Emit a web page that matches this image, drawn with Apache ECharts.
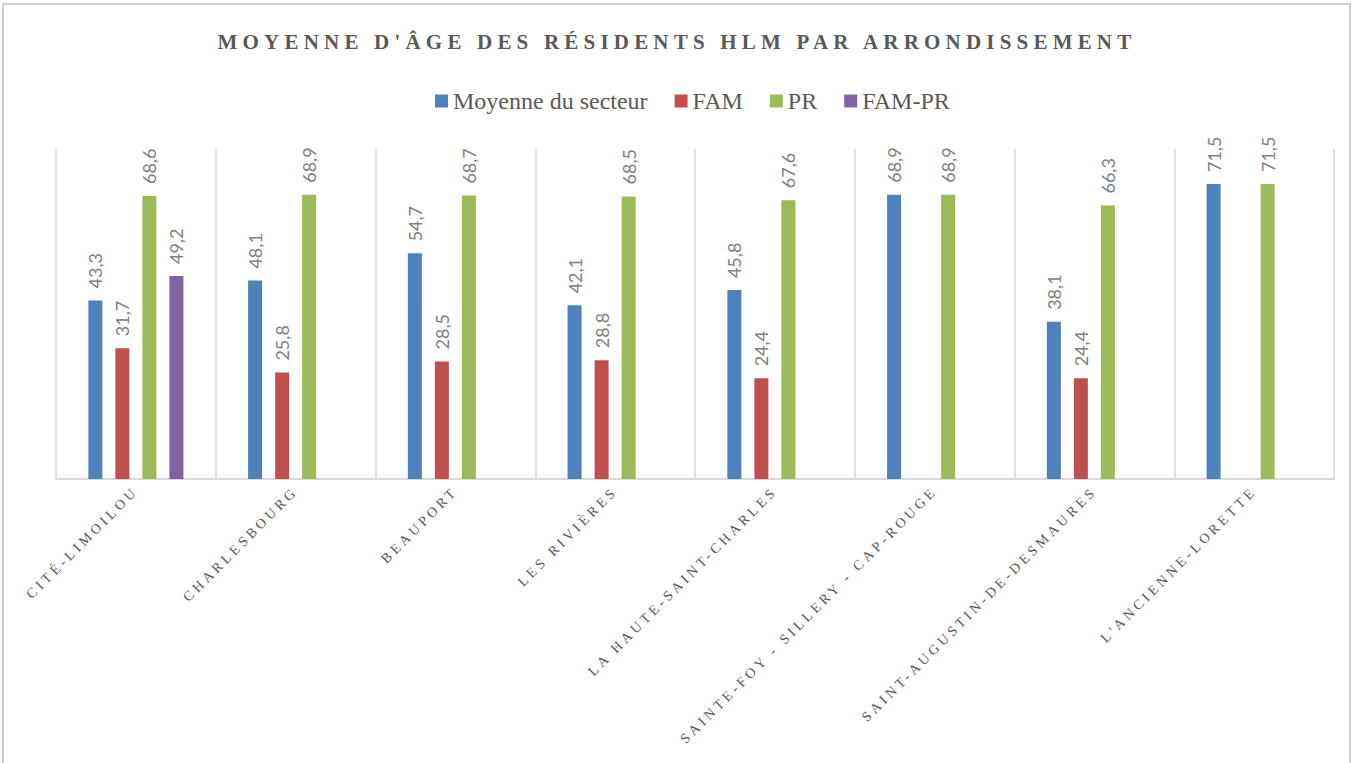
<!DOCTYPE html>
<html>
<head>
<meta charset="utf-8">
<script src="https://cdn.jsdelivr.net/npm/echarts@6/dist/echarts.min.js"></script>
<style>
    html, body { margin: 0; padding: 0; background: #fff; }
    #charts { width: 1354px; height: 763px; }
    /* ECharts has no letter-spacing option: with the SVG renderer CSS does it */
    #charts text[style*="spaced"] { letter-spacing: 3.6px; }
    #charts text[style*="spacedtitle"] { letter-spacing: 5.2px; }
</style>
</head>
<body>
<div id="charts"></div>
<script>
const categories = ['CITÉ-LIMOILOU', 'CHARLESBOURG', 'BEAUPORT', 'LES RIVIÈRES',
    'LA HAUTE-SAINT-CHARLES', 'SAINTE-FOY - SILLERY - CAP-ROUGE',
    'SAINT-AUGUSTIN-DE-DESMAURES', "L'ANCIENNE-LORETTE"];
const moyenneSecteur = [43.3, 48.1, 54.7, 42.1, 45.8, 68.9, 38.1, 71.5];
const fam = [31.7, 25.8, 28.5, 28.8, 24.4, null, 24.4, null];
const pr = [68.6, 68.9, 68.7, 68.5, 67.6, 68.9, 66.3, 71.5];
const famPr = [49.2, null, null, null, null, null, null, null];

const seriesNames = ['Moyenne du secteur', 'FAM', 'PR', 'FAM-PR'];
const seriesData = [moyenneSecteur, fam, pr, famPr];
const colors = ['#4f81bd', '#c0504d', '#9bbb59', '#8064a2'];

const option = {
    animation: false,
    color: colors,
    title: {
        text: "MOYENNE D'ÂGE DES RÉSIDENTS HLM PAR ARRONDISSEMENT",
        left: 'center',
        top: 26,
        textStyle: {
            color: '#595959',
            fontFamily: 'Liberation Serif, spacedtitle',
            fontWeight: 'bold',
            fontSize: 21
        }
    },
    legend: {
        data: seriesNames,
        left: 430,
        top: 84,
        icon: 'rect',
        itemWidth: 13,
        itemHeight: 13,
        itemGap: 27,
        textStyle: {
            color: '#595959',
            fontFamily: 'Liberation Serif',
            fontSize: 24
        }
    },
    graphic: [{
        type: 'rect',
        shape: { x: 3, y: 4, width: 1347, height: 800 },
        style: { fill: 'none', stroke: '#d0d0d0', lineWidth: 2 },
        silent: true
    }],
    grid: {
        left: 56,
        right: 20,
        top: 149,
        bottom: 284
    },
    xAxis: {
        type: 'category',
        data: categories,
        axisLine: { show: true, lineStyle: { color: '#d9d9d9', width: 2 } },
        axisTick: { show: false },
        splitLine: { show: true, showMinLine: true, showMaxLine: true, lineStyle: { color: '#d9d9d9', width: 1.5 } },
        axisLabel: {
            interval: 0,
            rotate: 45,
            margin: 10,
            color: '#595959',
            fontFamily: 'Liberation Serif, spaced',
            fontSize: 14
        }
    },
    yAxis: {
        type: 'value',
        show: false,
        min: 0,
        max: 80,
        splitLine: { show: false }
    },
    series: seriesData.map((d, i) => ({
        name: seriesNames[i],
        type: 'bar',
        data: d,
        barWidth: 14,
        barGap: '93%',
        label: {
            show: true,
            position: 'top',
            rotate: 90,
            align: 'left',
            verticalAlign: 'middle',
            distance: 12,
            color: '#808080',
            fontFamily: 'Lato',
            fontSize: 18,
            formatter: p => String(p.value).replace('.', ',')
        }
    }))
};
const chart = echarts.init(document.getElementById('charts'), null, { renderer: 'svg' });
chart.setOption(option);
</script>
</body>
</html>
